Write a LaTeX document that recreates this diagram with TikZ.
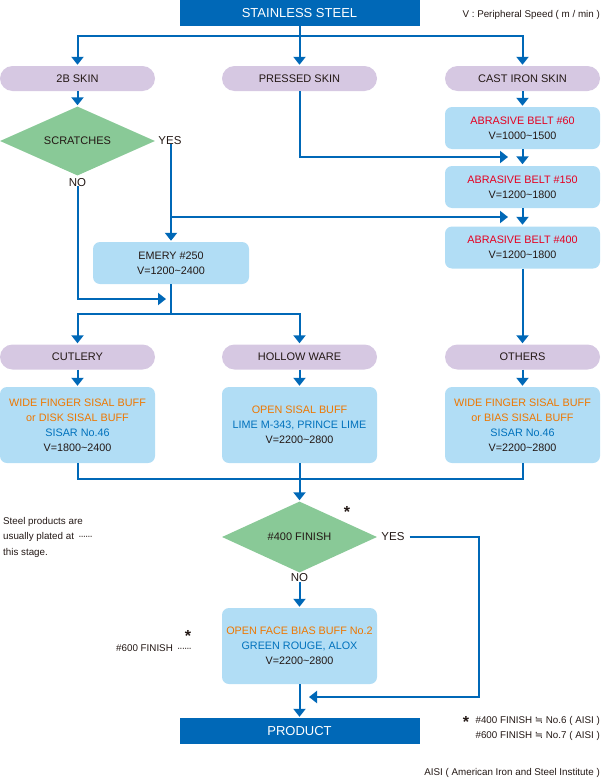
\documentclass[tikz,border=0pt]{standalone}
\usepackage{fontspec}
\setmainfont{Liberation Sans}
\newfontfamily\symfont{DejaVu Sans}
\usetikzlibrary{shapes.geometric,arrows.meta}
\definecolor{dblue}{HTML}{0068B7}
\definecolor{pillc}{HTML}{D6C8E2}
\definecolor{lblue}{HTML}{B1DDF5}
\definecolor{greenc}{HTML}{89C997}
\definecolor{redt}{HTML}{E50020}
\definecolor{oranget}{HTML}{EE7700}
\definecolor{bluet}{HTML}{0071BC}
\definecolor{blackt}{HTML}{231815}
\newcommand\myfs[2]{\fontsize{#1}{#2}\selectfont}
\newcommand\leaderdots{\,\textperiodcentered\kern-1pt\textperiodcentered\kern-1pt\textperiodcentered\kern-1pt\textperiodcentered\kern-1pt\textperiodcentered\kern-1pt\textperiodcentered}
\begin{document}
\begin{tikzpicture}[x=1pt,y=-1pt,
  titlebox/.style={fill=dblue,text=white,minimum width=240,minimum height=26,inner sep=0,font=\myfs{13}{15}},
  pill/.style={fill=pillc,text=blackt,rounded corners=12.5pt,minimum width=155,minimum height=25,inner sep=0,font=\myfs{11}{13}},
  proc/.style={fill=lblue,text=blackt,rounded corners=7pt,minimum width=155,inner sep=0,align=center,font=\myfs{10.8}{15}},
  decision/.style={diamond,fill=greenc,text=blackt,aspect=2.2,minimum width=155,minimum height=69,inner sep=0,font=\myfs{11}{13}},
  lbl/.style={text=blackt,inner sep=1pt,font=\myfs{11.5}{13}},
  note/.style={text=blackt,inner sep=0,font=\myfs{9.8}{15.5}},
  starn/.style={text=blackt,inner sep=0,font=\bfseries\myfs{16}{16}},
  line/.style={draw=dblue,line width=2pt},
  arr/.style={line,-{Triangle[width=12pt,length=8pt]}}
]
\useasboundingbox (0,0) rectangle (601,779);

% nodes
\node[titlebox] (title) at (299.5,13) {STAINLESS STEEL};
\node[note,anchor=east] (vnote) at (600,15) {V : Peripheral Speed ( m / min )};

\node[pill] (skinB) at (77.5,78.5) {2B SKIN};
\node[pill] (pressed) at (299.5,78.5) {PRESSED SKIN};
\node[pill] (cast) at (522.5,78.5) {CAST IRON SKIN};

\node[decision] (scr) at (77.5,141) {SCRATCHES};
\node[lbl] (yes1) at (170,141) {YES};
\node[lbl] (no1) at (77.5,183) {NO};

\node[proc,minimum height=42] (b60) at (522.5,128) {\textcolor{redt}{ABRASIVE BELT \#60}\\V=1000\textasciitilde1500};
\node[proc,minimum height=42] (b150) at (522.5,187) {\textcolor{redt}{ABRASIVE BELT \#150}\\V=1200\textasciitilde1800};
\node[proc,minimum height=42] (b400) at (522.5,247.5) {\textcolor{redt}{ABRASIVE BELT \#400}\\V=1200\textasciitilde1800};

\node[proc,minimum width=156,minimum height=42] (emery) at (171,263) {EMERY \#250\\V=1200\textasciitilde2400};

\node[pill] (cutlery) at (77.5,357) {CUTLERY};
\node[pill] (hollow) at (299.5,357) {HOLLOW WARE};
\node[pill] (others) at (522.5,357) {OTHERS};

\node[proc,minimum height=76] (cutbuff) at (77.5,425) {\textcolor{oranget}{WIDE FINGER SISAL BUFF}\\\textcolor{oranget}{or DISK SISAL BUFF}\\\textcolor{bluet}{SISAR No.46}\\V=1800\textasciitilde2400};
\node[proc,minimum height=76] (holbuff) at (299.5,425) {\textcolor{oranget}{OPEN SISAL BUFF}\\\textcolor{bluet}{LIME M-343, PRINCE LIME}\\V=2200\textasciitilde2800};
\node[proc,minimum height=76] (othbuff) at (522.5,425) {\textcolor{oranget}{WIDE FINGER SISAL BUFF}\\\textcolor{oranget}{or BIAS SISAL BUFF}\\\textcolor{bluet}{SISAR No.46}\\V=2200\textasciitilde2800};

\node[decision,minimum height=71] (fin) at (299.5,537) {\#400 FINISH};
\node[starn] (star1) at (347,512) {*};
\node[lbl] (yes2) at (393,537) {YES};
\node[lbl] (no2) at (299.5,578) {NO};

\node[proc,minimum height=76] (ofb) at (299.5,646) {\textcolor{oranget}{OPEN FACE BIAS BUFF No.2}\\\textcolor{bluet}{GREEN ROUGE, ALOX}\\V=2200\textasciitilde2800};
\node[titlebox] (product) at (299.5,731) {PRODUCT};

\node[note,anchor=west,align=left] (plated) at (3,537) {Steel products are\\usually plated at \leaderdots\\this stage.};
\node[note,anchor=east] (f600) at (192,648) {\#600 FINISH \leaderdots};
\node[starn] (star2) at (188,636) {*};
\node[note,anchor=east] (n400) at (600,721) {\#400 FINISH {\symfont ≒} No.6 ( AISI )};
\node[starn] (star3) at (466,722) {*};
\node[note,anchor=east] (n600) at (600,736) {\#600 FINISH {\symfont ≒} No.7 ( AISI )};
\node[note,anchor=east] (aisi) at (600,773) {AISI ( American Iron and Steel Institute )};

% junctions
\coordinate (j1) at (299.5,36);
\coordinate (tp) at (508,157);
\coordinate (j3) at (171,217);
\coordinate (ty) at (508,217);
\coordinate (tn) at (166,299);
\coordinate (j2) at (171,314);
\coordinate (j4) at (299.5,479);
\coordinate (rc) at (479,697);
\coordinate (tf) at (309,697);

% connectors
\draw[arr,shorten >=1pt] (title.south) -- (pressed.north);
\draw[arr,shorten >=1pt] (j1) -| (skinB.north);
\draw[arr,shorten >=1pt] (j1) -| (cast.north);
\draw[arr,shorten >=1pt] (skinB.south) -- (scr.north);
\draw[arr,shorten >=1pt] (cast.south) -- (b60.north);
\draw[arr,shorten >=1.5pt] (b60.south) -- (b150.north);
\draw[arr,shorten >=1.5pt] (b150.south) -- (b400.north);
\draw[arr,shorten >=1pt] (b400.south) -- (others.north);
\draw[arr] (pressed.south) |- (tp);
\draw[arr,shorten >=1pt] ([yshift=2pt]yes1.south -| emery.north) -- (emery.north);
\draw[arr] (j3) -- (ty);
\draw[arr] ([yshift=2pt]no1.south) |- (tn);
\draw[line] (emery.south) -- (j2);
\draw[arr,shorten >=1pt] (j2) -| (cutlery.north);
\draw[arr,shorten >=1pt] (j2) -| (hollow.north);
\draw[arr,shorten >=1pt] (cutlery.south) -- (cutbuff.north);
\draw[arr,shorten >=1pt] (hollow.south) -- (holbuff.north);
\draw[arr,shorten >=1pt] (others.south) -- (othbuff.north);
\draw[line] (cutbuff.south) |- (j4) -| (othbuff.south);
\draw[arr,shorten >=1pt] (holbuff.south) -- (fin.north);
\draw[arr] ([xshift=4pt]yes2.east) -| (rc) -- (tf);
\draw[arr,shorten >=1pt] ([yshift=1pt]no2.south) -- (ofb.north);
\draw[arr,shorten >=1pt] (ofb.south) -- (product.north);
\end{tikzpicture}
\end{document}
